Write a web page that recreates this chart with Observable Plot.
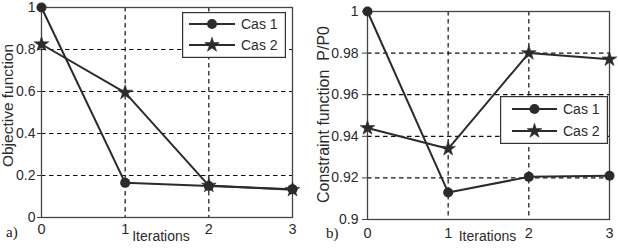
<!DOCTYPE html>
<html>
<head>
<meta charset="utf-8">
<script src="https://cdn.jsdelivr.net/npm/d3@7"></script>
<script src="https://cdn.jsdelivr.net/npm/@observablehq/plot@0.6"></script>
<style>
  body { margin: 0; background: #fff; }
  #chart { position: relative; width: 618px; height: 250px; overflow: hidden; background: #fff; }
  .panel { position: absolute; top: 0; }
  .tag { position: absolute; font-family: "Liberation Serif", "Times New Roman", serif; font-size: 15px; color: #222; line-height: 1; }
</style>
</head>
<body>
<div id="chart"></div>
<script>
// Optimisation history: iterations vs objective and constraint values
const iterations = [0, 1, 2, 3];
const seriesNames = ["Cas 1", "Cas 2"];

const objectiveCas1 = [1.0, 0.165, 0.15, 0.135];
const objectiveCas2 = [0.825, 0.595, 0.152, 0.132];
const objectiveTicks = [0, 0.2, 0.4, 0.6, 0.8, 1];

const constraintCas1 = [1.0, 0.913, 0.9205, 0.921];
const constraintCas2 = [0.944, 0.934, 0.980, 0.977];
const constraintTicks = [0.9, 0.92, 0.94, 0.96, 0.98, 1];

const xLabel = "Iterations";
const objectiveLabel = "Objective function";
const constraintLabel = "Constraint function\u00a0\u00a0P/P0";

const ink = "#2b2b2b";
const sans = "'Liberation Sans', Arial, sans-serif";
const starR = 4.6;
const dotR = 5;

function panel(o) {
  const rows = iterations.flatMap((it, i) => [
    {it, v: o.a[i], s: seriesNames[0]},
    {it, v: o.b[i], s: seriesNames[1]}
  ]);
  const dashed = {stroke: "#111", strokeOpacity: 1, strokeWidth: 1.2, strokeDasharray: "4.5,3.5"};
  return Plot.plot({
    width: 309,
    height: 250,
    marginLeft: o.ml, marginRight: o.mr, marginTop: o.mt, marginBottom: o.mb,
    style: {fontFamily: sans, fontSize: "14px", color: ink, background: "transparent"},
    x: {domain: [0, 3]},
    y: {domain: o.domain},
    marks: [
      Plot.gridX(iterations.slice(1, -1), dashed),
      Plot.gridY(o.ticks.slice(1, -1), dashed),
      Plot.frame({stroke: "#444", strokeWidth: 1.3}),
      Plot.axisX({ticks: iterations, tickFormat: d => String(d), tickSize: 0, tickPadding: o.xpad, label: null, fontSize: 14.5}),
      Plot.axisY({ticks: o.ticks, tickFormat: d => String(d), tickSize: o.ts, tickPadding: o.tp, label: null, fontSize: 14, stroke: "#444"}),
      Plot.text([o.yLabel], {text: d => d, frameAnchor: "left", textAnchor: "middle", lineAnchor: "middle", rotate: -90, dx: o.ldx, dy: o.ldy, fontSize: o.lfs, fill: ink}),
      Plot.text([xLabel], {text: d => d, frameAnchor: "bottom", textAnchor: "middle", dx: o.xdx, dy: o.xdy, fontSize: 14, fill: ink}),
      Plot.line(rows, {x: "it", y: "v", z: "s", stroke: ink, strokeWidth: 2}),
      Plot.dot(rows.filter(d => d.s === seriesNames[1]), {x: "it", y: "v", symbol: "star", r: starR, fill: ink, stroke: ink, strokeWidth: 0.6}),
      Plot.dot(rows.filter(d => d.s === seriesNames[0]), {x: "it", y: "v", symbol: "circle", r: dotR, fill: ink})
    ]
  });
}

function legend(b) {
  const svg = d3.create("svg")
    .attr("width", b.w).attr("height", b.h)
    .style("position", "absolute").style("left", b.x + "px").style("top", b.y + "px");
  svg.append("rect")
    .attr("x", 0.6).attr("y", 0.6).attr("width", b.w - 1.2).attr("height", b.h - 1.2)
    .attr("fill", "#fff").attr("stroke", "#333").attr("stroke-width", 1.2);
  seriesNames.forEach((name, i) => {
    const cy = b.row0 + i * b.gap;
    svg.append("line")
      .attr("x1", b.l0).attr("x2", b.l1).attr("y1", cy).attr("y2", cy)
      .attr("stroke", ink).attr("stroke-width", 2);
    svg.append("path")
      .attr("transform", `translate(${(b.l0 + b.l1) / 2},${cy})`)
      .attr("d", d3.symbol(i ? d3.symbolStar : d3.symbolCircle, i ? Math.PI * starR * starR : Math.PI * dotR * dotR)())
      .attr("fill", ink).attr("stroke", i ? ink : "none").attr("stroke-width", 0.6);
    svg.append("text")
      .attr("x", b.tx).attr("y", cy).attr("dy", "0.36em")
      .attr("font-family", sans).attr("font-size", 14).attr("fill", ink)
      .text(name);
  });
  return svg.node();
}

const chart = document.getElementById("chart");

const left = panel({
  a: objectiveCas1, b: objectiveCas2, domain: [0, 1], ticks: objectiveTicks, yLabel: objectiveLabel,
  ml: 41, mr: 17, mt: 7, mb: 33, xpad: 6, ts: 4, tp: 2, ldx: -33, ldy: -7, lfs: 15.5, xdx: -6, xdy: 23
});
left.classList.add("panel");
left.style.left = "0px";
chart.appendChild(left);

const right = panel({
  a: constraintCas1, b: constraintCas2, domain: [0.9, 1], ticks: constraintTicks, yLabel: constraintLabel,
  ml: 58, mr: 9, mt: 11, mb: 31, xpad: 8, ts: 5, tp: 4, ldx: -44, ldy: -1, lfs: 16, xdx: -1, xdy: 21
});
right.classList.add("panel");
right.style.left = "309px";
chart.appendChild(right);

chart.appendChild(legend({x: 182, y: 12, w: 104, h: 46, row0: 12, gap: 21, l0: 7, l1: 53, tx: 59}));
chart.appendChild(legend({x: 500, y: 96, w: 108, h: 48, row0: 13, gap: 22, l0: 12, l1: 57, tx: 63}));

const tagA = document.createElement("div");
tagA.className = "tag"; tagA.textContent = "a)";
tagA.style.left = "6px"; tagA.style.top = "225px";
chart.appendChild(tagA);

const tagB = document.createElement("div");
tagB.className = "tag"; tagB.textContent = "b)";
tagB.style.left = "326px"; tagB.style.top = "226px";
chart.appendChild(tagB);
</script>
</body>
</html>
